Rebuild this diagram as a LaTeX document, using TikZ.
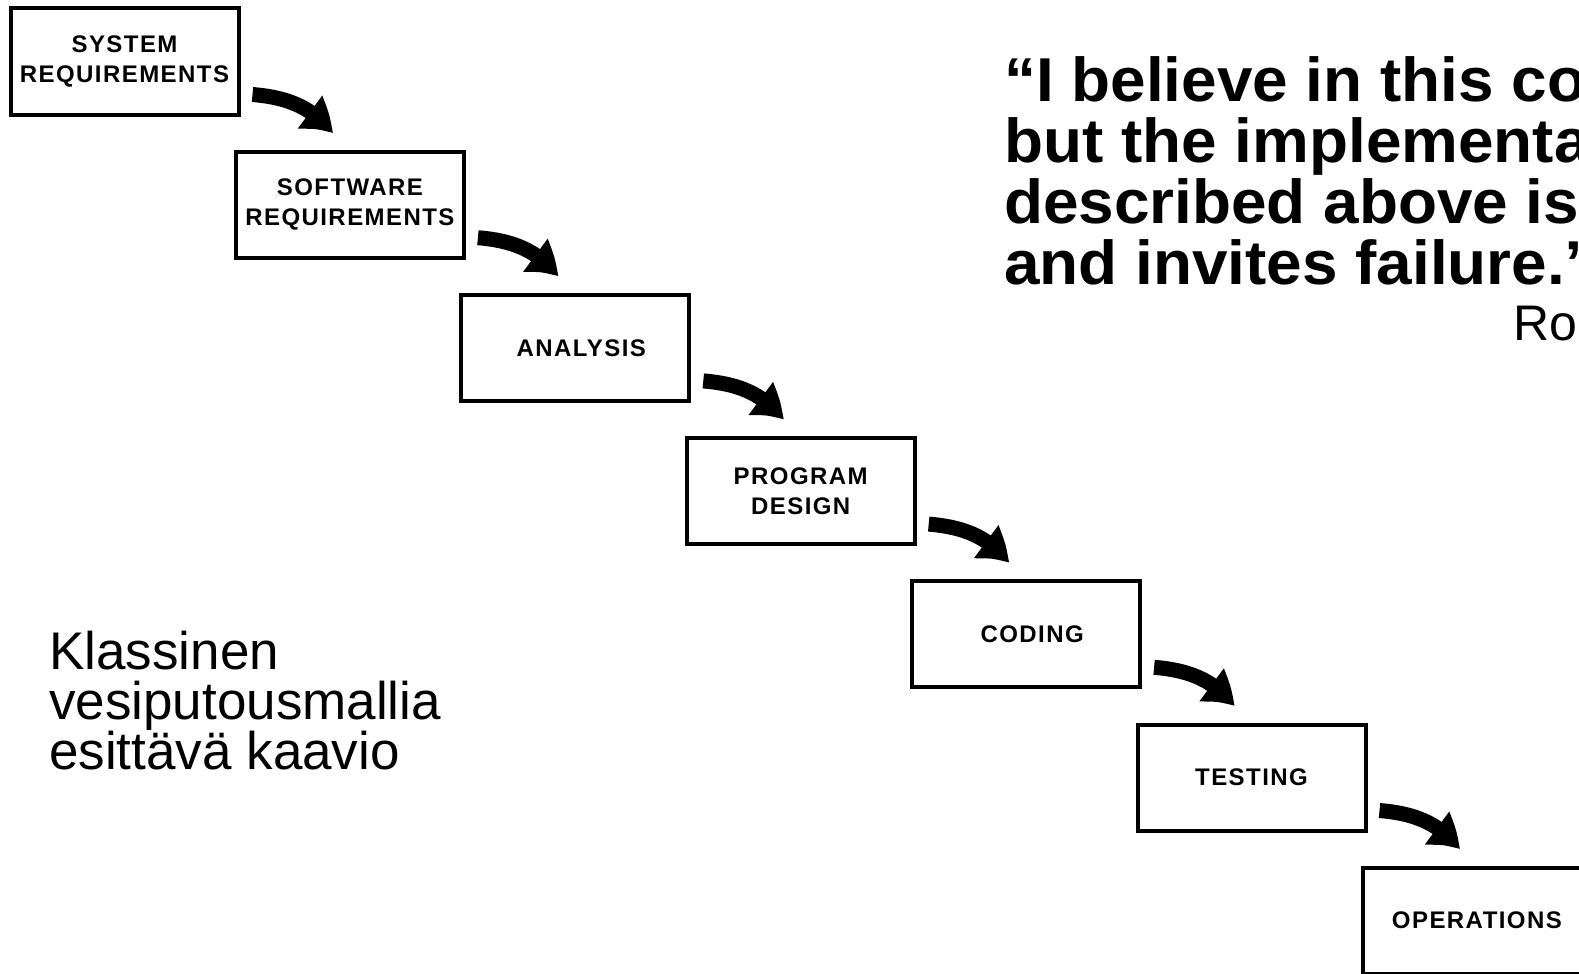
\documentclass[tikz,border=0pt]{standalone}
\usepackage{fontspec}
\setmainfont{Liberation Sans}
\newfontfamily\boxfont[LetterSpace=6]{Liberation Sans}
\newfontfamily\quotefont[FakeStretch=1.03]{Liberation Sans}
\usetikzlibrary{arrows.meta,bending}
\begin{document}
\begin{tikzpicture}[x=1pt,y=-1pt,
  stage/.style={draw, line width=4pt, minimum width=228pt, minimum height=106pt, inner sep=0pt, align=center,
    font=\boxfont\bfseries\fontsize{24}{30}\selectfont},
  flow/.style={line width=15pt, -{Triangle[bend,length=33pt,width=38pt]}},
  quoteline/.style={anchor=base west, inner sep=0pt, font=\quotefont\bfseries\fontsize{62}{62}\selectfont},
  noteline/.style={anchor=base west, inner sep=0pt, font=\fontsize{53}{50}\selectfont}]
\useasboundingbox (0,0) rectangle (1579,974);
\clip (0,0) rectangle (1579,974);
\fill[white] (0,0) rectangle (1579,974);

\node[stage] (s1) at (124.5,61.5) {SYSTEM\\REQUIREMENTS};
\node[stage] (s2) at (349.9,204.7) {SOFTWARE\\REQUIREMENTS};
\node[stage] (s3) at (575.3,347.9) {\hspace*{12pt}ANALYSIS};
\node[stage] (s4) at (800.7,491.1) {PROGRAM\\DESIGN};
\node[stage] (s5) at (1026.1,634.3) {\hspace*{12pt}CODING};
\node[stage] (s6) at (1251.5,777.5) {TESTING};
\node[stage] (s7) at (1476.9,920.7) {OPERATIONS};

\foreach \a/\b in {s1/s2,s2/s3,s3/s4,s4/s5,s5/s6,s6/s7}{
  \draw[flow] ([shift={(12,33)}]\a.east) .. controls +(36,3) and +(-20,-26) .. ([shift={(-17,-16)}]\b.north);
}

\node[quoteline] (q1) at (1004,101) {“I believe in this concept,};
\node[quoteline] (q2) at (1004,162) {but the implementation};
\node[quoteline] (q3) at (1004,223) {described above is risky};
\node[quoteline] (q4) at (1004,284) {and invites failure.”};
\node[anchor=base west, inner sep=0pt, font=\fontsize{50}{50}\selectfont] (q5) at (1513,340) {Ro};

\node[noteline] (n1) at (49,669) {Klassinen};
\node[noteline] (n2) at (49,719) {vesiputousmallia};
\node[noteline] (n3) at (49,769) {esittävä kaavio};
\end{tikzpicture}
\end{document}
